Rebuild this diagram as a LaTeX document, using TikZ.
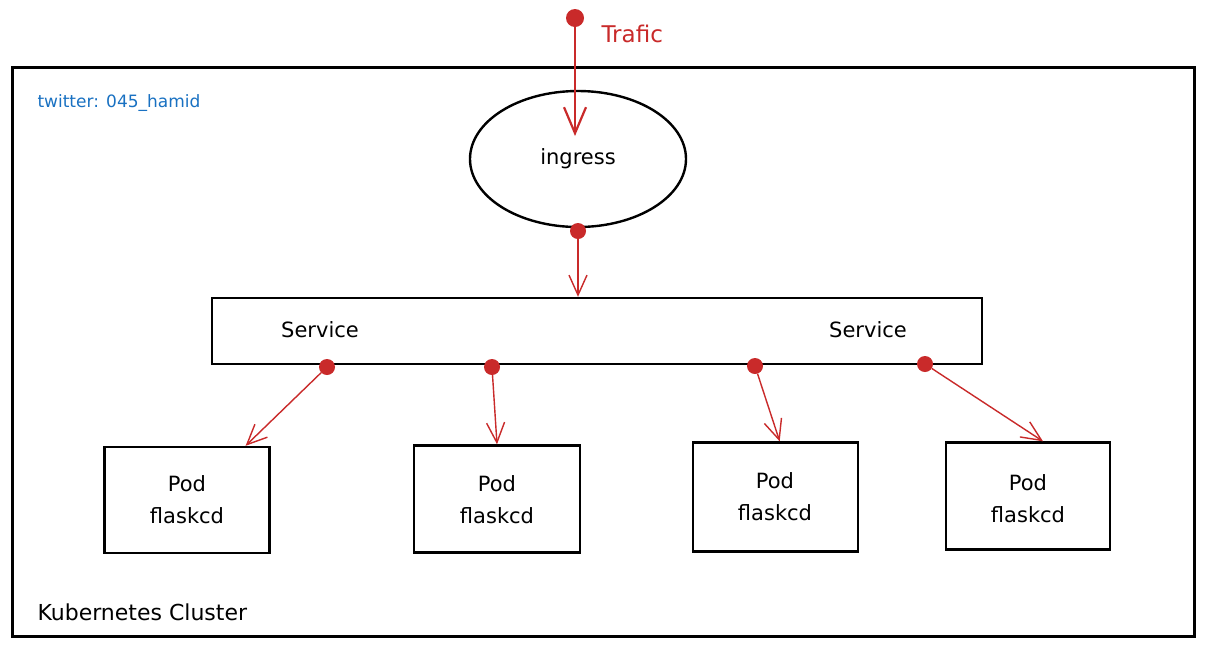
\documentclass[tikz,border=0pt]{standalone}
\usepackage{fontspec}
\setmainfont{DejaVu Sans}
\usetikzlibrary{arrows.meta,shapes.geometric,calc}
\definecolor{xred}{HTML}{C92A2A}
\definecolor{xblue}{HTML}{1971C2}
\begin{document}
\begin{tikzpicture}[x=1pt,y=-1pt,
  box/.style={draw=black,line width=2.4pt,inner sep=0pt},
  reddot/.style={circle,fill=xred,draw=none,minimum width=13pt,minimum height=16pt,inner sep=0pt},
  redarrow/.style={draw=xred,line width=1.4pt,-{Straight Barb[length=20pt,width=18pt,line width=1.4pt]}},
  lbl/.style={font=\fontsize{21}{32}\selectfont,text=black,align=center},
]
\useasboundingbox (0,0) rectangle (1210,649);
\fill[white] (0,0) rectangle (1210,649);
% cluster
\node[box,minimum width=1182pt,minimum height=569pt] (cluster) at (603.5,352) {};
\node[anchor=west,font=\fontsize{17}{20}\selectfont,text=xblue] (tw) at (34,103) {twitter: 045\_hamid};
\node[anchor=west,lbl,font=\fontsize{22}{26}\selectfont] (kc) at (34,612) {Kubernetes Cluster};
% ingress
\node[box,ellipse,minimum width=216pt,minimum height=136pt] (ing) at (578,159) {};
\node[lbl] (ingt) at (578,159) {ingress};
% trafic
\node[reddot,minimum width=16pt,minimum height=18pt] (trafdot) at (575,18) {};
\coordinate (trafend) at (575,136);
\draw[redarrow,line width=2.4pt,-{Straight Barb[length=26pt,width=22pt,line width=2.2pt]}] (trafdot) -- (trafend);
\node[anchor=west,font=\fontsize{23}{26}\selectfont,text=xred] (traft) at (598,34) {Trafic};
% service
\node[box,minimum width=770pt,minimum height=66pt] (svc) at (597,331) {};
\node[lbl] (svct1) at (320,330) {Service};
\node[lbl] (svct2) at (868,330) {Service};
\node[reddot] (idot) at (578,231) {};
\draw[redarrow] (idot) -- (svc.north -| idot);
% pods
\node[box,minimum width=165pt,minimum height=106pt] (pod1) at (187,500) {};
\node[box,minimum width=166pt,minimum height=107pt] (pod2) at (497,499) {};
\node[box,minimum width=165pt,minimum height=109pt] (pod3) at (775.5,497) {};
\node[box,minimum width=164pt,minimum height=107pt] (pod4) at (1028,496) {};
\node[lbl] (p1t) at (187,500) {Pod\\flaskcd};
\node[lbl] (p2t) at (497,500) {Pod\\flaskcd};
\node[lbl] (p3t) at (775,497) {Pod\\flaskcd};
\node[lbl] (p4t) at (1028,499) {Pod\\flaskcd};
% dots on service
\node[reddot] (s1) at (327,367) {};
\node[reddot] (s2) at (492,367) {};
\node[reddot] (s3) at (755,366) {};
\node[reddot] (s4) at (925,364) {};
\draw[redarrow] (s1) -- ($(pod1.north)!0.7!(pod1.north east)$);
\draw[redarrow] (s2) -- (pod2.north);
\draw[redarrow] (s3) -- ($(pod3.north)!0.05!(pod3.north east)$);
\draw[redarrow] (s4) -- ($(pod4.north)!0.18!(pod4.north east)$);
\end{tikzpicture}
\end{document}
